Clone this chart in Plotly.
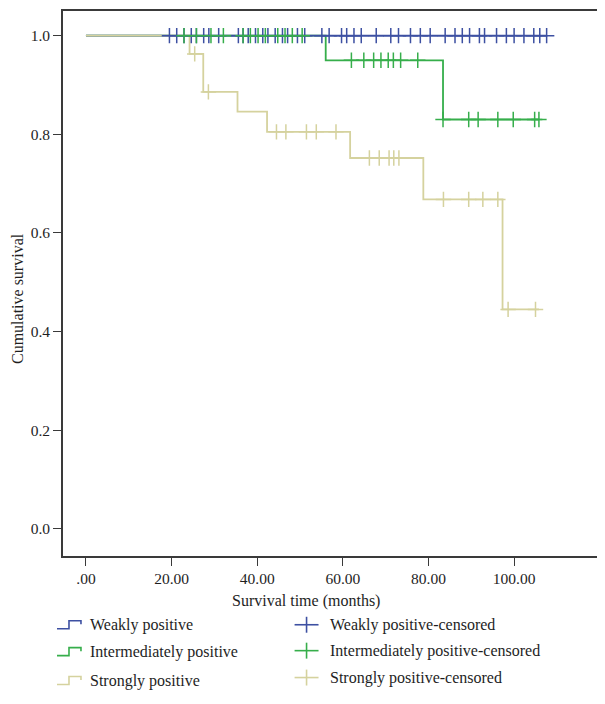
import plotly.graph_objects as go

# ---------------- data ----------------
x_tickvals = [0, 20, 40, 60, 80, 100]
x_ticktext = [".00", "20.00", "40.00", "60.00", "80.00", "100.00"]
y_tickvals = [0.0, 0.2, 0.4, 0.6, 0.8, 1.0]
y_ticktext = ["0.0", "0.2", "0.4", "0.6", "0.8", "1.0"]

group_names = ["Weakly positive", "Intermediately positive", "Strongly positive"]
group_colors = ["#3D50A2", "#36AE4B", "#D5D29E"]

# event times and survival after each event (months)
weak_event_times = []
weak_event_surv = []
weak_end = 107.6
weak_censor = [19.5, 21.2, 22.9, 24.6, 25.8, 27.5, 28.7, 31.0, 35.6, 36.7, 37.9, 39.6,
               41.3, 42.5, 44.2, 45.9, 47.1, 49.4, 51.1, 55.1, 56.8, 59.7, 60.9, 62.6,
               64.3, 67.8, 71.2, 73.0, 75.8, 78.1, 80.4, 83.9, 86.2, 87.9, 89.6, 91.9,
               93.1, 95.9, 98.2, 100.0, 102.3, 104.6, 106.0, 107.6]

inter_event_times = [56.0, 83.4]
inter_event_surv = [0.95, 0.83]
inter_end = 105.8
inter_censor = [22.9, 25.8, 29.2, 32.1, 36.7, 38.4, 40.2, 41.9, 44.8, 46.5, 48.2, 50.5,
                62.0, 64.9, 67.2, 68.9, 70.6, 71.8, 73.5, 77.5,
                83.4, 89.4, 91.6, 96.2, 99.8, 104.8, 105.8]

strong_event_times = [24.2, 27.4, 35.4, 42.3, 61.7, 78.8, 97.3]
strong_event_surv = [0.963, 0.886, 0.846, 0.805, 0.752, 0.668, 0.445]
strong_end = 105.8
strong_censor = [25.4, 28.6, 44.5, 46.7, 51.5, 53.8, 58.4,
                 66.2, 68.5, 70.8, 71.9, 73.1,
                 83.5, 89.4, 92.7, 96.2, 98.6, 105.0]

groups = [
    (weak_event_times, weak_event_surv, weak_end, weak_censor),
    (inter_event_times, inter_event_surv, inter_end, inter_censor),
    (strong_event_times, strong_event_surv, strong_end, strong_censor),
]


def surv_at(t, times, surv):
    s = 1.0
    for et, es in zip(times, surv):
        if t >= et:
            s = es
    return s


def step_xy(times, surv, end):
    xs = [0.0] + list(times) + [end]
    ys = [1.0] + list(surv) + [surv[-1] if surv else 1.0]
    return xs, ys


fig = go.Figure()

# lines: green first, then blue, then beige on top
for gi in [1, 0, 2]:
    times, surv, end, cens = groups[gi]
    xs, ys = step_xy(times, surv, end)
    fig.add_trace(go.Scatter(x=xs, y=ys, mode="lines",
                             line=dict(color=group_colors[gi], width=1.8, shape="hv"),
                             showlegend=False, hoverinfo="skip"))

for gi in [0, 1, 2]:
    times, surv, end, cens = groups[gi]
    cy = [surv_at(t, times, surv) for t in cens]
    fig.add_trace(go.Scatter(x=cens, y=cy, mode="markers",
                             marker=dict(symbol="cross-thin", size=11,
                                         line=dict(color=group_colors[gi], width=1.5)),
                             showlegend=False, hoverinfo="skip"))

# ---------------- layout ----------------
W, H = 605, 704
L, R, T, B = 55, 2, 1, 156
pw, ph = W - L - R, H - T - B


def px(xp):
    return (xp - L) / pw


def py(yp):
    return (H - B - yp) / ph


font_family = "Liberation Serif"
text_color = "#1e1e1e"

shapes = []
annotations = []
row_y_left = [617, 644, 673]
row_y_right = [617, 643, 670]
for i, name in enumerate(group_names):
    yy = row_y_left[i]
    path = "M {a},{b} L {c},{b} L {c},{d} L {e},{d} L {e},{f}".format(
        a=px(49), b=py(yy + 4), c=px(61), d=py(yy - 4), e=px(73), f=py(yy - 0.5))
    shapes.append(dict(type="path", xref="paper", yref="paper", path=path,
                       line=dict(color=group_colors[i], width=1.6)))
    annotations.append(dict(x=px(80), y=py(yy), xref="paper", yref="paper", text=name,
                            showarrow=False, xanchor="left", yanchor="middle",
                            font=dict(family=font_family, size=16, color=text_color)))
    yr = row_y_right[i]
    shapes.append(dict(type="line", xref="paper", yref="paper", x0=px(287), x1=px(311),
                       y0=py(yr), y1=py(yr), line=dict(color=group_colors[i], width=1.6)))
    shapes.append(dict(type="line", xref="paper", yref="paper", x0=px(299), x1=px(299),
                       y0=py(yr - 8), y1=py(yr + 8), line=dict(color=group_colors[i], width=1.6)))
    annotations.append(dict(x=px(320), y=py(yr), xref="paper", yref="paper",
                            text=name + "-censored",
                            showarrow=False, xanchor="left", yanchor="middle",
                            font=dict(family=font_family, size=16, color=text_color)))

# axis titles
annotations.append(dict(x=px(298), y=py(593), xref="paper", yref="paper",
                        text="Survival time (months)",
                        showarrow=False, xanchor="center", yanchor="middle",
                        font=dict(family=font_family, size=16, color=text_color)))
annotations.append(dict(x=px(10), y=py(290), xref="paper", yref="paper",
                        text="Cumulative survival", textangle=-90,
                        showarrow=False, xanchor="center", yanchor="middle",
                        font=dict(family=font_family, size=16, color=text_color)))

fig.update_layout(
    width=W, height=H,
    margin=dict(l=L, r=R, t=T, b=B),
    plot_bgcolor="white", paper_bgcolor="white",
    font=dict(family=font_family, size=16, color=text_color),
    shapes=shapes, annotations=annotations,
    xaxis=dict(range=[-5.36, 122.4], tickvals=x_tickvals, ticktext=x_ticktext,
               showline=True, linecolor="#3a3a3a", linewidth=1.6, mirror=True,
               ticks="outside", ticklen=8, tickcolor="#3a3a3a", tickwidth=1.3,
               tickfont=dict(family=font_family, size=15.5, color=text_color),
               showgrid=False, zeroline=False),
    yaxis=dict(range=[-0.055, 1.05], tickvals=y_tickvals, ticktext=y_ticktext,
               showline=True, linecolor="#3a3a3a", linewidth=1.6, mirror=True,
               ticks="outside", ticklen=8, tickcolor="#3a3a3a", tickwidth=1.3,
               tickfont=dict(family=font_family, size=15.5, color=text_color),
               showgrid=False, zeroline=False),
)

fig.write_html("out.html")
